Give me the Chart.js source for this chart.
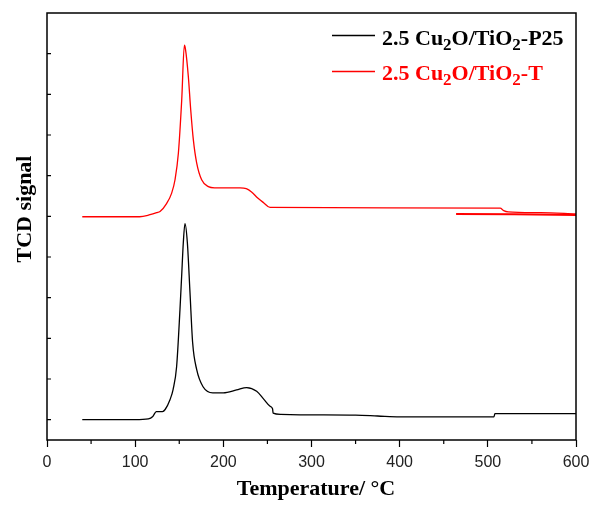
<!DOCTYPE html>
<html lang="en">
<head>
    <meta charset="UTF-8">
    <title>H2-TPR</title>
    <script src="https://cdn.jsdelivr.net/npm/chart.js"></script>
    <style>
        body { margin: 0; background: #fff; }
        #wrap { width: 592px; height: 507px; }
    </style>
</head>
<body>
<div id="wrap"><canvas id="tprChart"></canvas></div>
<script>
    // 2.5 Cu2O/TiO2-P25 (black)
    const p25Temp   = [40, 100, 115, 120, 124, 131, 134, 139.5, 143, 147, 150.8, 152.7, 154.6, 156.5, 159.2, 162.2, 165.2, 169.8, 177, 188, 200, 215, 226.5, 237.8, 246, 253, 255.8, 256.5, 265, 287, 350, 375, 400, 450, 507, 508, 550, 600];
    const p25Signal = [0, 0, 0.02, 0.08, 0.2, 0.2, 0.25, 0.49, 0.74, 1.3, 2.7, 3.52, 4.35, 4.82, 4.35, 3.12, 1.89, 1.23, 0.81, 0.66, 0.66, 0.73, 0.79, 0.7, 0.5, 0.33, 0.27, 0.16, 0.13, 0.12, 0.11, 0.09, 0.07, 0.07, 0.07, 0.15, 0.15, 0.15];

    // 2.5 Cu2O/TiO2-T (red)
    const tTemp   = [40, 105, 116.8, 124.4, 128.2, 135.8, 141.4, 145.2, 149, 152.8, 155.8, 157, 160.3, 163, 166, 169.8, 175.4, 183, 190, 219, 226, 232, 239, 246, 253, 514, 518, 523, 560, 600];
    const tSignal = [4.99, 4.99, 5.04, 5.09, 5.12, 5.32, 5.57, 5.9, 6.55, 7.86, 9.21, 9.12, 8.44, 7.62, 6.88, 6.31, 5.9, 5.73, 5.7, 5.7, 5.68, 5.6, 5.45, 5.33, 5.22, 5.2, 5.14, 5.11, 5.09, 5.06];
    // second red trace segment at the high-temperature end
    const tTailTemp   = [464, 530, 600];
    const tTailSignal = [5.06, 5.05, 5.03];

    const xTicks = [0, 100, 200, 300, 400, 500, 600];
    const xMinor = [50, 150, 250, 350, 450, 550];
    const yTicks = [0, 1, 2, 3, 4, 5, 6, 7, 8, 9];

    function toPoints(xs, ys) {
        return xs.map((x, i) => ({ x: x, y: ys[i] }));
    }

    const serif = "'Liberation Serif', 'Times New Roman', serif";

    const legendItems = [
        { color: '#000000', parts: [['2.5 Cu'], ['2', 1], ['O/TiO'], ['2', 1], ['-P25']] },
        { color: '#ff0000', parts: [['2.5 Cu'], ['2', 1], ['O/TiO'], ['2', 1], ['-T']] }
    ];

    const decorPlugin = {
        id: 'decor',
        afterDraw(chart) {
            const ctx = chart.ctx;
            const a = chart.chartArea;
            const xs = chart.scales.x, ys = chart.scales.y;
            ctx.save();
            ctx.strokeStyle = '#000';
            ctx.lineWidth = 1.5;
            ctx.strokeRect(a.left, a.top, a.right - a.left, a.bottom - a.top);

            ctx.lineWidth = 1.2;
            ctx.beginPath();
            xMinor.forEach(v => {
                const px = xs.getPixelForValue(v);
                ctx.moveTo(px, a.bottom);
                ctx.lineTo(px, a.bottom + 4);
            });
            yTicks.forEach(v => {
                const py = ys.getPixelForValue(v);
                ctx.moveTo(a.left, py);
                ctx.lineTo(a.left + 4, py);
            });
            ctx.stroke();

            // axis titles
            ctx.fillStyle = '#000';
            ctx.font = 'bold 22px ' + serif;
            ctx.textAlign = 'center';
            ctx.textBaseline = 'alphabetic';
            ctx.fillText('Temperature/ °C', 316, 495);
            ctx.save();
            ctx.translate(31, 209);
            ctx.rotate(-Math.PI / 2);
            ctx.fillText('TCD signal', 0, 0);
            ctx.restore();

            // legend with subscripts
            ctx.textAlign = 'left';
            legendItems.forEach((item, i) => {
                const base = 44.5 + i * 35.5;
                ctx.strokeStyle = item.color;
                ctx.lineWidth = 1.4;
                ctx.beginPath();
                ctx.moveTo(332, Math.round(base - 9.5) + 0.5);
                ctx.lineTo(375, Math.round(base - 9.5) + 0.5);
                ctx.stroke();
                ctx.fillStyle = item.color;
                let x = 382;
                item.parts.forEach(p => {
                    if (p[1]) {
                        ctx.font = 'bold 17px ' + serif;
                        ctx.fillText(p[0], x, base + 5);
                    } else {
                        ctx.font = 'bold 22px ' + serif;
                        ctx.fillText(p[0], x, base);
                    }
                    x += ctx.measureText(p[0]).width;
                });
            });
            ctx.restore();
        }
    };

    new Chart(document.getElementById('tprChart'), {
        type: 'line',
        data: {
            datasets: [
                { label: '2.5 Cu2O/TiO2-P25', data: toPoints(p25Temp, p25Signal), borderColor: '#000000', borderWidth: 1.3, cubicInterpolationMode: 'monotone' },
                { label: '2.5 Cu2O/TiO2-T', data: toPoints(tTemp, tSignal), borderColor: '#ff0000', borderWidth: 1.3, cubicInterpolationMode: 'monotone' },
                { label: 'tail', data: toPoints(tTailTemp, tTailSignal), borderColor: '#ff0000', borderWidth: 2 }
            ]
        },
        options: {
            responsive: true,
            maintainAspectRatio: false,
            animation: false,
            elements: { point: { radius: 0 } },
            layout: { padding: { top: 13, right: 16, left: 0, bottom: 0 } },
            plugins: { legend: { display: false }, tooltip: { enabled: false } },
            scales: {
                x: {
                    type: 'linear',
                    min: 0, max: 600,
                    afterFit(scale) {
                        scale.height = 67;
                        scale.paddingLeft = 0;
                        scale.paddingRight = 0;
                    },
                    afterBuildTicks(scale) { scale.ticks = xTicks.map(v => ({ value: v })); },
                    border: { display: false },
                    grid: { drawOnChartArea: false, tickLength: 7, color: '#000', tickWidth: 1.2 },
                    ticks: { color: '#222', padding: 6, maxRotation: 0, font: { size: 16, family: "'Liberation Sans', Arial, sans-serif" } }
                },
                y: {
                    min: -0.5, max: 10,
                    afterFit(scale) { scale.width = 47; },
                    border: { display: false },
                    grid: { display: false },
                    ticks: { display: false }
                }
            }
        },
        plugins: [decorPlugin]
    });
</script>
</body>
</html>
